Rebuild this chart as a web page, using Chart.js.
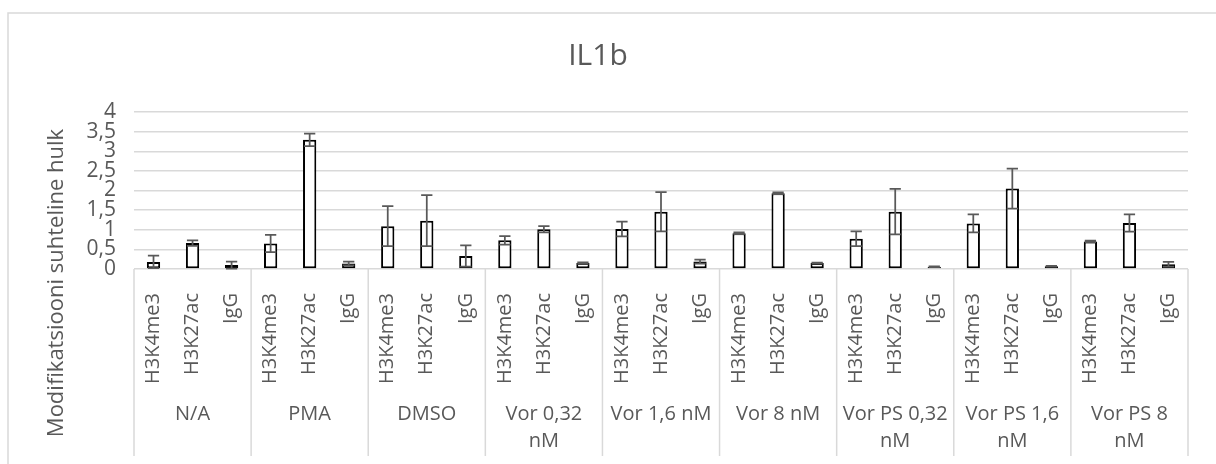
<!DOCTYPE html>
<html>
<head>
<meta charset="utf-8">
<title>IL1b</title>
<script src="https://cdn.jsdelivr.net/npm/chart.js@4"></script>
<style>
  body { margin: 0; background: #fff; }
  #wrap { width: 1216px; height: 464px; }
</style>
</head>
<body>
<div id="wrap"><canvas id="myChart"></canvas></div>
<script>
// values (one entry per treatment group)
const groups = ['N/A', 'PMA', 'DMSO', ['Vor 0,32', 'nM'], 'Vor 1,6 nM', 'Vor 8 nM', ['Vor PS 0,32', 'nM'], ['Vor PS 1,6', 'nM'], ['Vor PS 8', 'nM']];
const marks = ['H3K4me3', 'H3K27ac', 'IgG'];

const h3k4me3 = [0.18, 0.65, 1.09, 0.73, 1.02, 0.91, 0.77, 1.16, 0.70];
const h3k4me3Err = [0.16, 0.22, 0.51, 0.11, 0.19, 0.02, 0.19, 0.23, 0.02];
const h3k27ac = [0.66, 3.29, 1.23, 1.01, 1.46, 1.93, 1.46, 2.05, 1.17];
const h3k27acErr = [0.07, 0.16, 0.65, 0.08, 0.50, 0.02, 0.58, 0.51, 0.22];
const igg = [0.10, 0.14, 0.33, 0.15, 0.19, 0.15, 0.06, 0.07, 0.12];
const iggErr = [0.09, 0.05, 0.27, 0.02, 0.05, 0.01, 0.01, 0.01, 0.06];

const yTicks = ['0', '0,5', '1', '1,5', '2', '2,5', '3', '3,5', '4'];
const yTitle = 'Modifikatsiooni suhteline hulk';

// flatten to 27 bars: 3 marks per group
const labels = [];
const values = [];
const errors = [];
for (let g = 0; g < groups.length; g++) {
  labels.push(marks[0], marks[1], marks[2]);
  values.push(h3k4me3[g], h3k27ac[g], igg[g]);
  errors.push(h3k4me3Err[g], h3k27acErr[g], iggErr[g]);
}

const grey = '#595959';
const lightGrey = '#d9d9d9';
Chart.defaults.font.family = '"Open Sans", sans-serif';
Chart.defaults.color = grey;

// border, error bars, group separators and the y title
const extras = {
  id: 'extras',
  beforeDraw(chart) {
    const ctx = chart.ctx;
    ctx.save();
    ctx.strokeStyle = lightGrey;
    ctx.lineWidth = 1.5;
    ctx.strokeRect(8, 13, chart.width, chart.height);
    ctx.restore();
  },
  afterDatasetsDraw(chart) {
    const ctx = chart.ctx;
    const y = chart.scales.y;
    const meta = chart.getDatasetMeta(0);
    ctx.save();
    ctx.strokeStyle = grey;
    ctx.lineWidth = 1.75;
    meta.data.forEach((bar, i) => {
      const top = y.getPixelForValue(values[i] + errors[i]);
      const bottom = y.getPixelForValue(values[i] - errors[i]);
      const half = bar.width / 2 - 1;
      ctx.beginPath();
      ctx.moveTo(bar.x, top);
      ctx.lineTo(bar.x, bottom);
      ctx.moveTo(bar.x - half, top);
      ctx.lineTo(bar.x + half, top);
      ctx.moveTo(bar.x - half, bottom);
      ctx.lineTo(bar.x + half, bottom);
      ctx.stroke();
    });
    ctx.restore();
  },
  afterDraw(chart) {
    const ctx = chart.ctx;
    const x = chart.scales.x;
    const area = chart.chartArea;
    ctx.save();
    ctx.strokeStyle = lightGrey;
    ctx.lineWidth = 1.5;
    for (let g = 0; g <= groups.length; g++) {
      let px;
      if (g === 0) px = area.left;
      else if (g === groups.length) px = area.right;
      else px = (x.getPixelForTick(g * 3 - 1) + x.getPixelForTick(g * 3)) / 2;
      ctx.beginPath();
      ctx.moveTo(px, area.bottom);
      ctx.lineTo(px, chart.height - 8);
      ctx.stroke();
    }
    // y title is centred on the whole chart, not just the plot area
    ctx.translate(57, 283);
    ctx.rotate(-Math.PI / 2);
    ctx.font = '22px "Open Sans", sans-serif';
    ctx.fillStyle = grey;
    ctx.textAlign = 'center';
    ctx.textBaseline = 'middle';
    ctx.fillText(yTitle, 0, 0);
    ctx.restore();
  }
};

const ctx = document.getElementById('myChart');

new Chart(ctx, {
  type: 'bar',
  data: {
    labels: labels,
    datasets: [{
      label: 'IL1b',
      data: values,
      backgroundColor: '#fff',
      borderColor: '#000',
      borderWidth: 2,
      borderSkipped: false,
      barPercentage: 0.34,
      categoryPercentage: 1
    }]
  },
  options: {
    responsive: true,
    maintainAspectRatio: false,
    animation: false,
    layout: { padding: { left: 8, right: 28, top: 0, bottom: 0 } },
    plugins: {
      legend: { display: false },
      tooltip: { enabled: false },
      title: {
        display: true,
        text: 'IL1b',
        color: grey,
        font: { size: 30, weight: 'normal' },
        padding: { top: 38, bottom: 38 }
      }
    },
    scales: {
      y: {
        min: 0,
        max: 4,
        ticks: {
          stepSize: 0.5,
          autoSkip: false,
          padding: 18,
          font: { size: 21 },
          callback: (v, i) => yTicks[i]
        },
        grid: { color: lightGrey, lineWidth: 1.5, drawTicks: false },
        border: { display: false },
        afterFit: (scale) => { scale.width = 126; }
      },
      x: {
        offset: true,
        weight: 0,
        ticks: { autoSkip: false, minRotation: 90, maxRotation: 90, padding: 16, font: { size: 20 } },
        grid: { display: false },
        border: { display: false },
        afterFit: (scale) => { scale.height = 119; }
      },
      x2: {
        type: 'category',
        labels: groups,
        position: 'bottom',
        offset: true,
        weight: 1,
        ticks: { autoSkip: false, maxRotation: 0, padding: 4, font: { size: 20, lineHeight: 1.38 } },
        grid: { display: false },
        border: { display: false },
        afterFit: (scale) => { scale.height = 76; }
      }
    }
  },
  plugins: [extras]
});
</script>
</body>
</html>
